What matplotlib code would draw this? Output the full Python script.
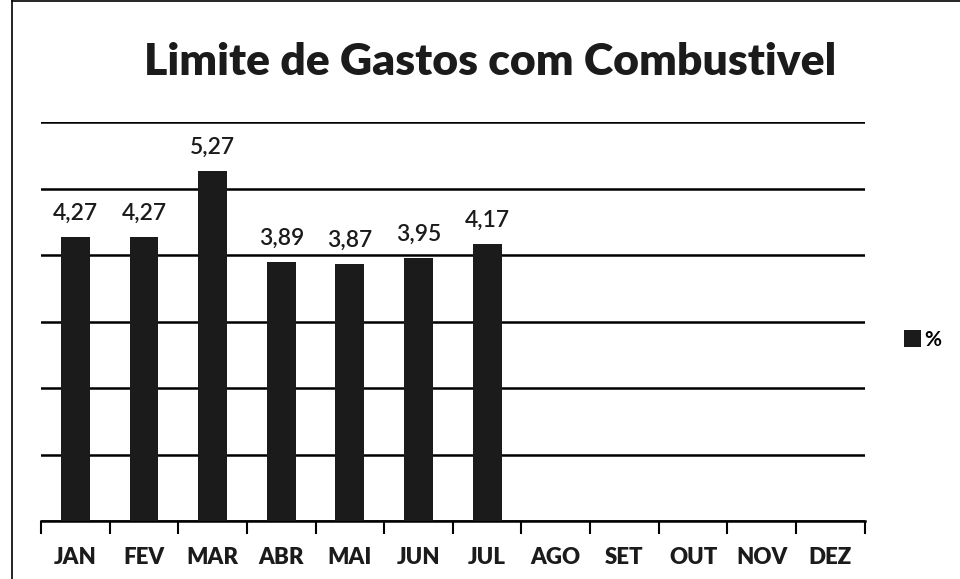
import matplotlib.pyplot as plt
import numpy as np
from matplotlib.lines import Line2D

meses = ['JAN', 'FEV', 'MAR', 'ABR', 'MAI', 'JUN', 'JUL', 'AGO', 'SET', 'OUT', 'NOV', 'DEZ']
valores = [4.27, 4.27, 5.27, 3.89, 3.87, 3.95, 4.17]
rotulos = ['4,27', '4,27', '5,27', '3,89', '3,87', '3,95', '4,17']

plt.rcParams['font.family'] = ['Lato', 'DejaVu Sans']

fig = plt.figure(figsize=(9.6, 5.79), dpi=100)
ax = fig.add_axes([0.0427, 0.100, 0.858, 0.689])

x = np.arange(len(meses))
barras = ax.bar(x[:len(valores)], valores, width=0.42, color='#1b1b1b', label='%', zorder=3)

for b, txt in zip(barras, rotulos):
    ax.text(b.get_x() + b.get_width() / 2, b.get_height() + 0.2, txt,
            ha='center', va='bottom', fontsize=16.5, fontweight='semibold', color='#1b1b1b')

ax.set_xlim(-0.5, len(meses) - 0.5)
ax.set_ylim(0, 6)
ax.set_yticks(np.arange(0, 7, 1))
ax.yaxis.grid(True, color='black', lw=1.8)
ax.tick_params(axis='y', left=False, labelleft=False)
ax.set_xticks(x)
ax.set_xticklabels(meses, fontsize=16, fontweight='heavy', color='#1b1b1b')
ax.set_xticks(np.arange(-0.5, len(meses), 1), minor=True)
ax.tick_params(axis='x', which='major', length=0, pad=19)
ax.tick_params(axis='x', which='minor', length=9, width=1.5, direction='out', color='black')
for s in ['top', 'right', 'left']:
    ax.spines[s].set_visible(False)
ax.spines['bottom'].set_linewidth(1.8)

fig.suptitle('Limite de Gastos com Combustivel', x=0.511, y=0.893, va='center',
             fontsize=32, fontweight='heavy', color='#1b1b1b')

fig.legend(handles=[barras], labels=['%'], loc='center left', bbox_to_anchor=(0.922, 0.413),
           frameon=False, handlelength=0.8, handleheight=0.9, handletextpad=0.2,
           prop={'size': 15, 'weight': 'bold'})

# moldura do grafico
fig.add_artist(Line2D([0.013, 0.013], [0.0, 0.998], color='black', lw=1.2))
fig.add_artist(Line2D([0.013, 1.0], [0.998, 0.998], color='black', lw=1.2))

fig.savefig('out.png', dpi=100)
